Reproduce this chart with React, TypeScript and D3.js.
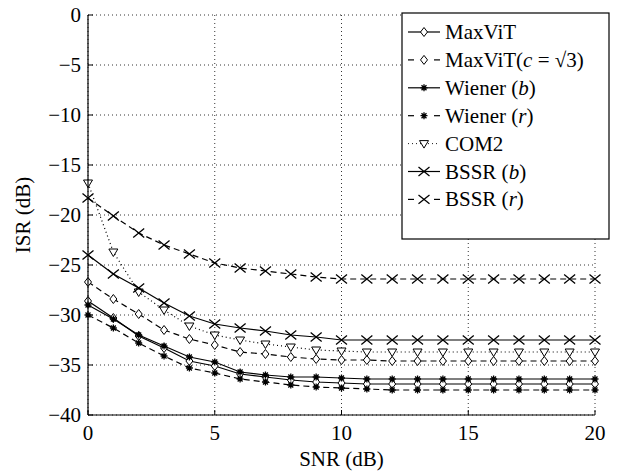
import React, { useEffect } from 'react';
import * as d3 from 'd3';

const snr = [0, 1, 2, 3, 4, 5, 6, 7, 8, 9, 10, 11, 12, 13, 14, 15, 16, 17, 18, 19, 20];

const maxvit = [-28.6, -30.3, -32.1, -33.3, -34.6, -35.1, -35.9, -36.2, -36.5, -36.7, -36.8, -36.9, -36.9, -36.9, -36.9, -36.9, -36.9, -36.9, -36.9, -36.9, -36.9];
const maxvitC = [-26.7, -28.4, -29.9, -31.5, -32.4, -33.0, -33.7, -33.9, -34.2, -34.4, -34.5, -34.5, -34.6, -34.6, -34.6, -34.6, -34.6, -34.6, -34.6, -34.6, -34.6];
const wienerB = [-29.0, -30.4, -32.0, -33.1, -34.2, -34.7, -35.7, -36.0, -36.2, -36.2, -36.3, -36.4, -36.4, -36.4, -36.4, -36.4, -36.4, -36.4, -36.4, -36.4, -36.4];
const wienerR = [-30.0, -31.3, -32.8, -34.1, -35.3, -35.8, -36.4, -36.7, -37.0, -37.2, -37.3, -37.4, -37.5, -37.5, -37.5, -37.5, -37.5, -37.5, -37.5, -37.5, -37.5];
const com2 = [-16.8, -23.7, -27.7, -29.5, -31.1, -32.0, -32.5, -32.9, -33.2, -33.5, -33.6, -33.7, -33.7, -33.7, -33.7, -33.7, -33.7, -33.7, -33.7, -33.7, -33.7];
const bssrB = [-24.0, -25.9, -27.3, -28.8, -30.1, -30.9, -31.3, -31.6, -32.0, -32.2, -32.5, -32.5, -32.5, -32.5, -32.5, -32.5, -32.5, -32.5, -32.5, -32.5, -32.5];
const bssrR = [-18.3, -20.1, -21.8, -23.0, -23.9, -24.8, -25.3, -25.6, -25.9, -26.2, -26.4, -26.4, -26.4, -26.4, -26.4, -26.4, -26.4, -26.4, -26.4, -26.4, -26.4];

const xTicks = [0, 5, 10, 15, 20];
const yTicks = [0, -5, -10, -15, -20, -25, -30, -35, -40];

type Marker = 'diamond' | 'star' | 'tri' | 'x';
type Series = { key: string; values: number[]; dash: string; marker: Marker };

const series: Series[] = [
  { key: 'MaxViT', values: maxvit, dash: '', marker: 'diamond' },
  { key: 'MaxViTc', values: maxvitC, dash: '6,4', marker: 'diamond' },
  { key: 'WienerB', values: wienerB, dash: '', marker: 'star' },
  { key: 'WienerR', values: wienerR, dash: '6,4', marker: 'star' },
  { key: 'COM2', values: com2, dash: '1,3', marker: 'tri' },
  { key: 'BSSRb', values: bssrB, dash: '', marker: 'x' },
  { key: 'BSSRr', values: bssrR, dash: '6,4', marker: 'x' },
];

const FONT = "'Liberation Serif', 'Times New Roman', serif";

function MarkerShape({ type, x, y }: { type: Marker; x: number; y: number }) {
  const s = { stroke: '#000', strokeWidth: 1, fill: 'none' };
  if (type === 'diamond') {
    return <path d={`M${x},${y - 4.5}L${x + 3.5},${y}L${x},${y + 4.5}L${x - 3.5},${y}Z`} {...s} fill="#fff" />;
  }
  if (type === 'tri') {
    return <path d={`M${x - 4.5},${y - 3}L${x + 4.5},${y - 3}L${x},${y + 4.5}Z`} {...s} fill="#fff" />;
  }
  if (type === 'x') {
    const r = 5.5;
    return <path d={`M${x - r},${y - r * 0.8}L${x + r},${y + r * 0.8}M${x - r},${y + r * 0.8}L${x + r},${y - r * 0.8}`} {...s} strokeWidth={1.3} />;
  }
  const r = 3.5;
  const d = d3.range(4).map((i) => {
    const a = (i * Math.PI) / 4;
    return `M${x - r * Math.cos(a)},${y - r * Math.sin(a)}L${x + r * Math.cos(a)},${y + r * Math.sin(a)}`;
  }).join('');
  return <path d={d} {...s} strokeWidth={1.3} />;
}

export default function App() {
  useEffect(() => {
    document.body.style.margin = '0';
  }, []);

  const W = 626;
  const H = 472;
  const left = 88, right = 595, top = 15, bottom = 415;

  const x = d3.scaleLinear().domain([0, 20]).range([left, right]);
  const y = d3.scaleLinear().domain([-40, 0]).range([bottom, top]);

  const line = d3.line<number>().x((_, i) => x(snr[i])).y((d) => y(d));

  const legendRows = [
    { label: <tspan>MaxViT</tspan>, dash: '', marker: 'diamond' as Marker },
    {
      label: (
        <>
          <tspan>MaxViT(</tspan>
          <tspan fontStyle="italic">c</tspan>
          <tspan> = √3)</tspan>
        </>
      ),
      dash: 'dash',
      marker: 'diamond' as Marker,
    },
    { label: <><tspan>Wiener (</tspan><tspan fontStyle="italic">b</tspan><tspan>)</tspan></>, dash: '', marker: 'star' as Marker },
    { label: <><tspan>Wiener (</tspan><tspan fontStyle="italic">r</tspan><tspan>)</tspan></>, dash: 'dash', marker: 'star' as Marker },
    { label: <tspan>COM2</tspan>, dash: 'dot', marker: 'tri' as Marker },
    { label: <><tspan>BSSR (</tspan><tspan fontStyle="italic">b</tspan><tspan>)</tspan></>, dash: '', marker: 'x' as Marker },
    { label: <><tspan>BSSR (</tspan><tspan fontStyle="italic">r</tspan><tspan>)</tspan></>, dash: 'dash', marker: 'x' as Marker },
  ];

  const lgX = 402, lgY = 13, lgW = 207, lgH = 226;

  return (
    <svg width={W} height={H} style={{ display: 'block', background: '#fff', fontFamily: FONT }}>
      <rect width={W} height={H} fill="#fff" />
      {/* grid */}
      {xTicks.map((t) => (
        <line key={'gx' + t} x1={x(t)} x2={x(t)} y1={top} y2={bottom} stroke="#000" strokeWidth={0.8} strokeDasharray="1,3" />
      ))}
      {yTicks.map((t) => (
        <line key={'gy' + t} x1={left} x2={right} y1={y(t)} y2={y(t)} stroke="#000" strokeWidth={0.8} strokeDasharray="1,3" />
      ))}
      {/* series */}
      {series.map((s) => (
        <g key={s.key}>
          <path d={line(s.values) || ''} fill="none" stroke="#000" strokeWidth={1.2} strokeDasharray={s.dash || undefined} />
          {s.values.map((v, i) => (
            <MarkerShape key={i} type={s.marker} x={x(snr[i])} y={y(v)} />
          ))}
        </g>
      ))}
      {/* axes */}
      <line x1={left} x2={left} y1={top} y2={bottom} stroke="#000" strokeWidth={1.2} />
      <line x1={left} x2={right} y1={bottom} y2={bottom} stroke="#000" strokeWidth={1.2} />
      {xTicks.map((t) => (
        <g key={'tx' + t}>
          <line x1={x(t)} x2={x(t)} y1={bottom} y2={bottom - 5} stroke="#000" />
          <text x={x(t)} y={bottom + 25} textAnchor="middle" fontSize={21}>{t}</text>
        </g>
      ))}
      {yTicks.map((t) => (
        <g key={'ty' + t}>
          <line x1={left} x2={left + 5} y1={y(t)} y2={y(t)} stroke="#000" />
          <text x={left - 7} y={y(t) + 7} textAnchor="end" fontSize={21}>{t === 0 ? '0' : '−' + Math.abs(t)}</text>
        </g>
      ))}
      <text x={(left + right) / 2} y={466} textAnchor="middle" fontSize={21}>SNR (dB)</text>
      <text transform={`translate(30,${(top + bottom) / 2}) rotate(-90)`} textAnchor="middle" fontSize={21}>ISR (dB)</text>
      {/* legend */}
      <rect x={lgX} y={lgY} width={lgW} height={lgH} fill="#fff" stroke="#000" strokeWidth={1.2} />
      {legendRows.map((r, i) => {
        const ry = 32 + i * 27.9;
        const mx = 424;
        return (
          <g key={'lg' + i}>
            {r.dash === '' && <line x1={408} x2={440} y1={ry} y2={ry} stroke="#000" strokeWidth={1.2} />}
            {r.dash === 'dash' && (
              <>
                <line x1={408} x2={414} y1={ry} y2={ry} stroke="#000" strokeWidth={1.2} />
                <line x1={434} x2={440} y1={ry} y2={ry} stroke="#000" strokeWidth={1.2} />
              </>
            )}
            {r.dash === 'dot' && (
              <line x1={408} x2={440} y1={ry} y2={ry} stroke="#000" strokeWidth={0.9} strokeDasharray="1,3" />
            )}
            <MarkerShape type={r.marker} x={mx} y={ry} />
            <text x={445} y={ry + 7} fontSize={21}>{r.label}</text>
          </g>
        );
      })}
    </svg>
  );
}
